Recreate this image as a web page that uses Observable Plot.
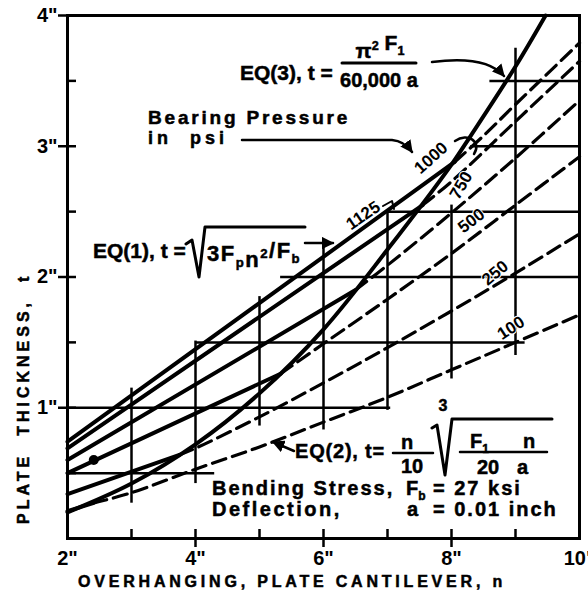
<!DOCTYPE html>
<html><head><meta charset="utf-8">
<script src="https://cdn.jsdelivr.net/npm/d3@7"></script>
<script src="https://cdn.jsdelivr.net/npm/@observablehq/plot@0.6"></script>
<style>
body{margin:0;background:#fff;}
svg{display:block}
</style></head><body><div id="chart"></div>
<script>
// ---------- DATA ----------
const pressures = ["100", "250", "500", "750", "1000", "1125"];

// EQ(1): solid bearing-pressure lines, [n, t]
const eq1_100  = [[2, 0.21], [2.4, 0.27]];
const eq1_250  = [[2, 0.34], [3.75, 0.64]];
const eq1_500  = [[2, 0.50], [5.33, 1.26]];
const eq1_750  = [[2, 0.60], [6.5, 1.90]];
const eq1_1000 = [[2, 0.69], [7.55, 2.55]];
const eq1_1125 = [[2, 0.74], [8.05, 2.88]];

// EQ(2): dashed deflection curves, [n, t]
const eq2_100  = [[2.4, 0.27], [3, 0.35], [4, 0.53], [5, 0.70], [6, 0.89], [7, 1.08], [8, 1.29], [9, 1.50], [10, 1.71]];
const eq2_250  = [[3.75, 0.64], [4, 0.69], [5, 0.93], [6, 1.19], [7, 1.46], [8, 1.74], [9, 2.03], [10, 2.33]];
const eq2_500  = [[5.33, 1.26], [6, 1.49], [7, 1.83], [8, 2.18], [9, 2.55], [10, 2.92]];
const eq2_750  = [[6.5, 1.90], [7, 2.09], [8, 2.49], [9, 2.91], [10, 3.35]];
const eq2_1000 = [[7.55, 2.55], [8, 2.73], [9, 3.19], [10, 3.65]];
const eq2_1125 = [[8.05, 2.88], [8.5, 3.08], [9, 3.32], [10, 3.79]];

// EQ(3): solid bending curve, [n, t]
const eq3 = [[2, 0.20], [3, 0.42], [4, 0.72], [5, 1.11], [6, 1.60], [7, 2.21], [8, 2.86], [8.3, 3.08], [9, 3.61], [9.47, 4.0]];

// partial grid segments
const gridH = [[0.5, 2, 4.3], [1.0, 2, 7.05], [1.5, 4, 9.15], [2.0, 5.33, 10], [2.5, 7, 10], [3.0, 8.3, 10], [3.5, 8.6, 10]]; // [t, n1, n2]
const gridV = [[3, 0.27, 1.15], [4, 0.42, 1.51], [5, 0.86, 1.85], [6, 0.83, 2.23], [7, 0.98, 2.51], [8, 1.22, 2.55], [9, 1.4, 3.75]]; // [n, t1, t2]

// tick values and labels
const xTickLabels = [2, 4, 6, 8, 10];
const yTickLabels = [1, 2, 3, 4];
const xTicks = [3, 4, 5, 6, 7, 8, 9];
const yTicks = [0.5, 1, 1.5, 2, 2.5, 3, 3.5, 4];

// curve labels: [text, n, t, angle]
const curveLabels = [["1125", 6.62, 2.47, -34], ["1000", 7.68, 2.91, -42], ["750", 8.15, 2.70, -60],
                     ["500", 8.31, 2.43, -38], ["250", 8.68, 2.03, -40], ["100", 8.93, 1.61, -33]];
const blobs = [[2.41, 0.60]];

// ---------- BUILD ----------
const eq1 = [eq1_100, eq1_250, eq1_500, eq1_750, eq1_1000, eq1_1125];
const eq2 = [eq2_100, eq2_250, eq2_500, eq2_750, eq2_1000, eq2_1125];
const toRows = (arrs) => arrs.flatMap((a, i) => a.map(([n, t]) => ({n, t, s: pressures[i]})));
const eq1Rows = toRows(eq1);
const eq2Rows = toRows(eq2);
const eq3Rows = eq3.map(([n, t]) => ({n, t}));

const FONT = "'Liberation Sans', Arial, sans-serif";
const W = 588, H = 603;
const mL = 67, mR = 9, mT = 15, mB = 65;
const pxPerN = (W - mL - mR) / 8, pxPerT = (H - mT - mB) / 4;
const tickN = 9 / pxPerN, tickT = 9 / pxPerT;

const plot = Plot.plot({
  width: W, height: H,
  marginLeft: mL, marginRight: mR, marginTop: mT, marginBottom: mB,
  x: {domain: [2, 10]},
  y: {domain: [0, 4]},
  style: {fontFamily: FONT, background: "white", color: "black"},
  marks: [
    Plot.ruleY(gridH, {y: d => d[0], x1: d => d[1], x2: d => d[2], stroke: "black", strokeWidth: 2.5}),
    Plot.ruleX(gridV, {x: d => d[0], y1: d => d[1], y2: d => d[2], stroke: "black", strokeWidth: 2.5}),
    Plot.ruleY(yTicks, {y: d => d, x1: d => (Number.isInteger(d) ? 2 - tickN : 2), x2: 2 + tickN, stroke: "black", strokeWidth: 2.5}),
    Plot.ruleX(xTicks, {x: d => d, y1: d => (d % 2 === 0 ? -tickT : 0), y2: tickT, stroke: "black", strokeWidth: 2.5}),
    Plot.line(eq2Rows, {x: "n", y: "t", z: "s", curve: "catmull-rom", stroke: "black", strokeWidth: 3.2, strokeDasharray: "14,7"}),
    Plot.line(eq1Rows, {x: "n", y: "t", z: "s", stroke: "black", strokeWidth: 4}),
    Plot.line(eq3Rows, {x: "n", y: "t", curve: "catmull-rom", stroke: "black", strokeWidth: 4}),
    Plot.dot(blobs, {x: d => d[0], y: d => d[1], r: 5, fill: "black"}),
    Plot.text(curveLabels, {x: d => d[1], y: d => d[2], text: d => d[0], rotate: d => d[3], fontSize: 17, fontWeight: "bold", fill: "black", stroke: "white", strokeWidth: 2, paintOrder: "stroke"}),
    Plot.frame({stroke: "black", strokeWidth: 3}),
    Plot.axisY({ticks: yTickLabels, tickFormat: d => `${d}"`, tickSize: 0, tickPadding: 10, fontSize: 20, fontWeight: "bold", label: null}),
    Plot.axisX({ticks: xTickLabels, tickFormat: d => `${d}"`, tickSize: 0, tickPadding: 12, fontSize: 20, fontWeight: "bold", label: null})
  ]
});
document.getElementById("chart").appendChild(plot);

// ---------- ANNOTATIONS (pixel layout) ----------
const svg = d3.select(plot);
svg.append("defs").append("marker")
  .attr("id", "ah").attr("viewBox", "0 0 10 10").attr("refX", 9).attr("refY", 5)
  .attr("markerWidth", 5).attr("markerHeight", 5).attr("orient", "auto")
  .append("path").attr("d", "M0,0L10,5L0,10z").attr("fill", "black");

const g = svg.append("g").attr("font-family", FONT).attr("font-weight", "bold").attr("fill", "black").attr("text-anchor", "start");
function heavy(t) { return t.attr("stroke", "black").attr("stroke-width", 0.5); }
function txt(x, y, s, size, anchor = "start", ls = 0) {
  return heavy(g.append("text").attr("x", x).attr("y", y).attr("font-size", size)
    .attr("text-anchor", anchor).attr("letter-spacing", ls).attr("xml:space", "preserve").text(s));
}
function rich(x, y, parts, size, anchor = "start", ls = 0) {
  const t = heavy(g.append("text").attr("x", x).attr("y", y).attr("font-size", size).attr("text-anchor", anchor).attr("letter-spacing", ls));
  for (const [s, kind] of parts) {
    const sp = t.append("tspan").text(s);
    if (kind === "sub") sp.attr("font-size", size * 0.6).attr("dy", size * 0.25);
    else if (kind === "sup") sp.attr("font-size", size * 0.6).attr("dy", -size * 0.4);
    if (kind === "sub" || kind === "sup") t.append("tspan").attr("dy", kind === "sub" ? -size * 0.25 : size * 0.4).text("");
  }
  return t;
}
function path(d, w = 3, arrow = false) {
  const p = g.append("path").attr("d", d).attr("fill", "none").attr("stroke", "black").attr("stroke-width", w)
    .attr("stroke-linecap", "round").attr("stroke-linejoin", "round");
  if (arrow) p.attr("marker-end", "url(#ah)");
  return p;
}

// axis titles
heavy(g.append("text").attr("transform", "translate(29,524) rotate(-90)").attr("font-size", 16).attr("text-anchor", "start")
  .attr("letter-spacing", 4).attr("xml:space", "preserve").text("PLATE  THICKNESS,  t"));
txt(78, 587, "OVERHANGING, PLATE CANTILEVER, n", 16, "start", 3.8);

// EQ(3)
txt(240, 80, "EQ(3), t =", 21);
rich(380, 58, [["π", ""], ["2", "sup"], [" F", ""], ["1", "sub"]], 21, "middle");
path("M342,63L416,63", 3);
txt(379, 87, "60,000 a", 20, "middle");
path("M432,62C470,57 492,62 504,76", 2.5, true);

// Bearing pressure
txt(148, 124, "Bearing Pressure", 19, "start", 2.8);
txt(148, 144, "in  psi", 18, "start", 4);
path("M242,140L392,140Q404,141 412,152", 2.5, true);

// EQ(1)
txt(93, 258, "EQ(1), t =", 21);
path("M186,244L192,240L199,277L205,227L305,227", 3);
rich(207, 261, [["3F", ""], ["p", "sub"], ["n", ""], ["2", "sup"], ["/F", ""], ["b", "sub"]], 22, "start", 1.5);
path("M305,243L333,243", 2.5, true);

// label flourishes
path("M383,206L392,201L394,209", 2);
path("M455,141C468,132 482,142 474,154", 2.5);

// EQ(2)
path("M294,451L273,442", 2.5, true);
txt(295, 458, "EQ(2), t=", 20, "start", 0.8);
txt(407, 449, "n", 20, "middle");
path("M393,453L433,453", 2.5);
txt(412, 473, "10", 20, "middle");
txt(443, 411, "3", 16, "middle");
path("M432,428L437,425L445,475L452,419L552,419", 3);
rich(470, 448, [["F", ""], ["1", "sub"]], 20);
txt(523, 448, "n", 20);
path("M460,452L547,452", 2.5);
txt(477, 474, "20", 20);
txt(517, 474, "a", 20);

// Constants
txt(212, 495, "Bending Stress,", 20, "start", 2);
rich(406, 495, [["F", ""], ["b", "sub"]], 20);
txt(433, 495, "= 27 ksi", 20, "start", 2);
txt(212, 516, "Deflection,", 20, "start", 2.5);
txt(407, 516, "a", 20);
txt(433, 516, "= 0.01 inch", 20, "start", 2);
</script></body></html>
